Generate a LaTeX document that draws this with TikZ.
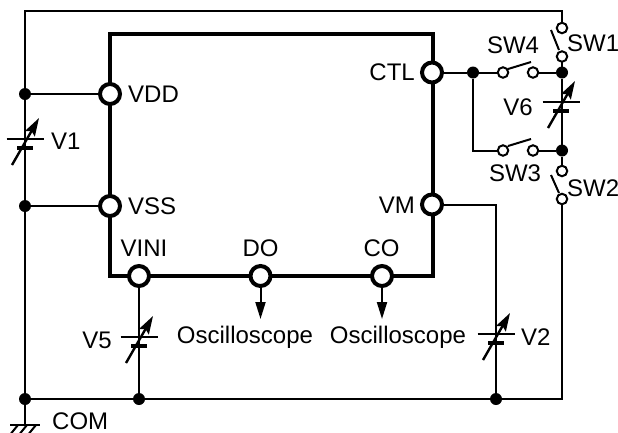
\documentclass[tikz,border=0pt]{standalone}
\usepackage{fontspec}
\setmainfont{Liberation Sans}
\usetikzlibrary{arrows.meta}
\tikzset{
 wire/.style={line width=2pt,black},
 chip/.style={line width=4pt,black},
 term/.style={circle,draw=black,fill=white,line width=4pt,minimum size=20pt,inner sep=0pt,outer sep=0pt},
 swt/.style={circle,draw=black,fill=white,line width=2pt,minimum size=10.5pt,inner sep=0pt,outer sep=0pt},
 dot/.style={circle,fill=black,minimum size=12pt,inner sep=0pt,outer sep=0pt},
 lab/.style={font=\fontsize{24}{26}\selectfont,inner sep=0pt,text=black},
 plate/.style={line width=2pt},
 splate/.style={line width=3.5pt},
 adj/.style={line width=2.4pt,-{Stealth[length=18pt,width=11pt,inset=3pt]}},
 lever/.style={line width=2pt},
 oarrow/.style={line width=2pt,-{Stealth[length=17pt,width=10pt,inset=0pt]}},
}
\begin{document}
\begin{tikzpicture}[x=1pt,y=-1pt]
\useasboundingbox (0,0) rectangle (618,432);
% corner coordinates
\coordinate (tl) at (25,11);
\coordinate (tr) at (562,11);
\coordinate (br) at (562,399);
\coordinate (vmc) at (496,204.5);
\coordinate (gnd) at (25,425);
\coordinate (sw3c) at (473,150.5);
% dots
\node[dot] (dVDD) at (25,94) {};
\node[dot] (dVSS) at (25,206) {};
\node[dot] (dBL) at (25,399) {};
\node[dot] (dV5) at (139,399) {};
\node[dot] (dV2) at (496,399) {};
\node[dot] (dCTL) at (473,72.5) {};
\node[dot] (dT) at (562,72.5) {};
\node[dot] (dB) at (562,150.5) {};
% wires
\draw[wire] (dBL) -- (tl) -- (tr) -- (562,24);
\draw[wire] (dBL) -- (gnd);
\draw[wire] (dBL) -- (br) -- (562,199);
\draw[wire] (dVDD) -- (110,94);
\draw[wire] (dVSS) -- (110,206);
\draw[wire] (432,72.5) -- (dCTL) -- (503,72.5);
\draw[wire] (dCTL) -- (sw3c) -- (503,150.5);
\draw[wire] (533,72.5) -- (dT);
\draw[wire] (533,150.5) -- (dB);
\draw[wire] (562,56) -- (dT) -- (dB) -- (562,171);
\draw[wire] (432,204.5) -- (vmc) -- (dV2);
\draw[wire] (139,276) -- (dV5);
% chip
\draw[chip] (110,34) rectangle (432.5,276);
% terminals
\node[term] (VDD) at (110,94) {};
\node[term] (VSS) at (110,206) {};
\node[term] (CTL) at (432,72.5) {};
\node[term] (VM) at (432,204.5) {};
\node[term] (VINI) at (139,276) {};
\node[term] (DO) at (260.5,276) {};
\node[term] (CO) at (382,276) {};
% outputs
\coordinate (oDO) at (260.5,319);
\coordinate (oCO) at (382,319);
\draw[oarrow] (DO) -- (oDO);
\draw[oarrow] (CO) -- (oCO);
% switches
\node[swt] (s1a) at (562,28) {};
\node[swt] (s1b) at (562,56.5) {};
\draw[lever] (551,30) -- (559,50);
\node[swt] (s2a) at (562,171) {};
\node[swt] (s2b) at (562,199) {};
\draw[lever] (551,175) -- (559,193);
\node[swt] (s4a) at (503,72.5) {};
\node[swt] (s4b) at (533,72.5) {};
\draw[lever] (508,69) -- (531,62);
\node[swt] (s3a) at (503,150.5) {};
\node[swt] (s3b) at (533,150.5) {};
\draw[lever] (508,146) -- (531,139);
% variable sources
\newcommand{\vsrc}[2]{%
 \draw[plate] (#1-18.5,#2) -- (#1+18.5,#2);
 \draw[splate] (#1-8,#2+9) -- (#1+8,#2+9);
 \draw[adj] (#1-13,#2+26) -- (#1+14,#2-21);
}
\vsrc{25}{139}
\vsrc{139}{337}
\vsrc{496}{334}
\vsrc{561}{102}
% ground
\draw[wire] (10,425) -- (40,425);
\begin{scope}
\clip (0,425) rectangle (618,432);
\draw[wire] (18,425) -- (9,436);
\draw[wire] (27,425) -- (18,436);
\draw[wire] (36,425) -- (27,436);
\end{scope}
% labels
\node[lab,anchor=west] at (128,94) {VDD};
\node[lab,anchor=west] at (128,206) {VSS};
\node[lab,anchor=east] at (415,72) {CTL};
\node[lab,anchor=east] at (415,205) {VM};
\node[lab] at (144,248) {VINI};
\node[lab] at (260.5,248) {DO};
\node[lab] at (381.5,248) {CO};
\node[lab,anchor=west] at (51,141.5) {V1};
\node[lab,anchor=east] at (112,340) {V5};
\node[lab,anchor=west] at (521,337) {V2};
\node[lab,anchor=east] at (533,107) {V6};
\node[lab,anchor=west] at (567,43.5) {SW1};
\node[lab,anchor=west] at (567,188.5) {SW2};
\node[lab] at (515,173) {SW3};
\node[lab] at (513,45) {SW4};
\node[lab,anchor=base] at (245,343.5) {Oscilloscope};
\node[lab,anchor=base] at (398,343.5) {Oscilloscope};
\node[lab,anchor=west] at (52,421) {COM};
\end{tikzpicture}
\end{document}
